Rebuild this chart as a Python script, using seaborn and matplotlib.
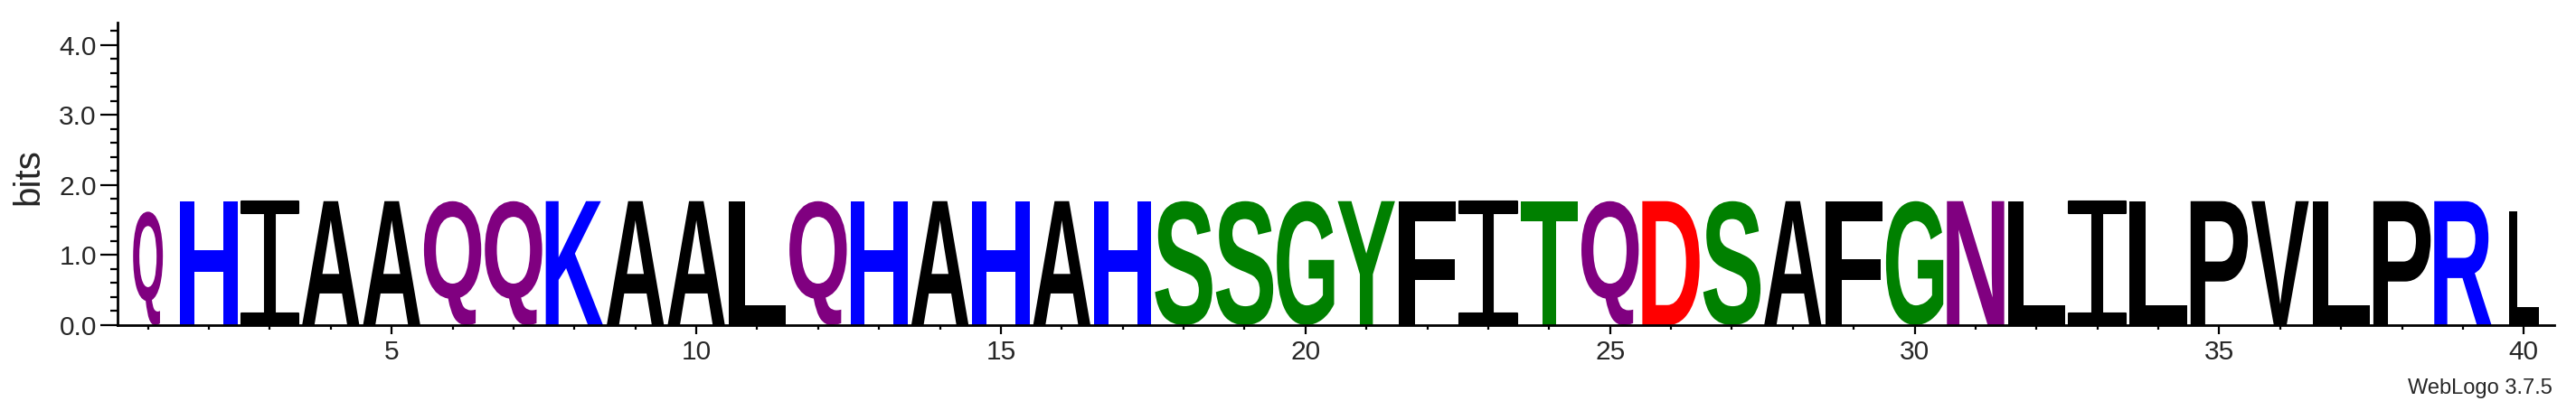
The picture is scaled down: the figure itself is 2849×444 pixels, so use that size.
#!/usr/bin/env python

# sequence logo, weblogo style

import pandas as pd
import seaborn as sns
import matplotlib.pyplot as plt
from matplotlib.textpath import TextPath
from matplotlib.font_manager import FontProperties
from matplotlib.patches import PathPatch
from matplotlib.path import Path
from matplotlib.transforms import Affine2D
from matplotlib.ticker import MultipleLocator, FixedLocator

residues = list("QHIAAQQKAALQHAHAHSSGYFITQDSAFGNLILPVLPRL")
positions = list(range(1, 41))
bits = [1.62, 1.77, 1.77, 1.77, 1.77, 1.77, 1.77, 1.77, 1.77, 1.77,
        1.77, 1.77, 1.77, 1.77, 1.77, 1.77, 1.77, 1.77, 1.77, 1.77,
        1.77, 1.77, 1.77, 1.77, 1.77, 1.77, 1.77, 1.77, 1.77, 1.77,
        1.77, 1.77, 1.77, 1.77, 1.77, 1.77, 1.77, 1.77, 1.77, 1.62]
occupancy = [0.52] + [1.0] * 38 + [0.52]
xticks_major = [5, 10, 15, 20, 25, 30, 35, 40]
yticks_major = [0.0, 1.0, 2.0, 3.0, 4.0]

df = pd.DataFrame({"pos": positions, "res": residues, "bits": bits, "occ": occupancy})

# weblogo "chemistry" colours
chem = {}
for r in "GSTYC":
    chem[r] = "#008000"
for r in "QN":
    chem[r] = "#800080"
for r in "KRH":
    chem[r] = "#0000ff"
for r in "DE":
    chem[r] = "#ff0000"
for r in "AVLIPWFM":
    chem[r] = "#000000"

sns.set_style("ticks")
plt.rcParams["font.family"] = ["Liberation Sans", "DejaVu Sans"]

glyph_font = FontProperties(family="Liberation Sans", weight="bold")


def serif_i():
    # I with bars, like weblogo's font
    b, s = 0.095, 0.085
    verts = [(0, 0), (1, 0), (1, b), (0.5 + s, b), (0.5 + s, 1 - b), (1, 1 - b),
             (1, 1), (0, 1), (0, 1 - b), (0.5 - s, 1 - b), (0.5 - s, b), (0, b), (0, 0)]
    codes = [Path.MOVETO] + [Path.LINETO] * 11 + [Path.CLOSEPOLY]
    return Path(verts, codes)


def glyph(ch):
    if ch == "I":
        return serif_i()
    return TextPath((0, 0), ch, size=100, prop=glyph_font)


fig = plt.figure(figsize=(28.49, 4.44), dpi=100)
ax = fig.add_axes([130 / 2849, 84 / 444, (2825 - 130) / 2849, (360 - 25) / 444])

for _, row in df.iterrows():
    p = glyph(row["res"])
    ext = p.get_extents()
    w = 0.94 * row["occ"]
    tr = (Affine2D().translate(-ext.x0, -ext.y0)
          .scale(w / ext.width, row["bits"] / ext.height)
          .translate(row["pos"] - w / 2, 0))
    lw = 0 if row["res"] != "I" else 1.5
    ax.add_patch(PathPatch(tr.transform_path(p), fc=chem[row["res"]],
                           ec=chem[row["res"]], lw=lw, joinstyle="round"))

ax.set_xlim(0.5, 40.5)
ax.set_ylim(0, 4.32)
sns.despine(ax=ax)
for s in ["left", "bottom"]:
    ax.spines[s].set_linewidth(2.0)
    ax.spines[s].set_color("black")

ax.xaxis.set_major_locator(FixedLocator(xticks_major))
ax.xaxis.set_minor_locator(FixedLocator(positions))
ax.set_xticklabels([str(t) for t in xticks_major])
ax.yaxis.set_major_locator(FixedLocator(yticks_major))
ax.yaxis.set_minor_locator(MultipleLocator(0.2))
ax.set_yticklabels(["%.1f" % t for t in yticks_major])

ax.tick_params(axis="x", which="major", length=10 * 0.72, width=1.6, labelsize=21.5, pad=4, color="black")
ax.tick_params(axis="x", which="minor", length=5 * 0.72, width=1.6, color="black")
ax.tick_params(axis="y", which="major", length=19 * 0.72, width=1.6, labelsize=21.5, pad=3, color="black")
ax.tick_params(axis="y", which="minor", length=8 * 0.72, width=1.6, color="black")

ax.set_ylabel("bits", fontsize=29)
ax.yaxis.set_label_coords(-80 / 2695, 0.49)

fig.text(2823 / 2849, 8 / 444, "WebLogo 3.7.5", ha="right", va="baseline", fontsize=17)

plt.savefig("out.png", dpi=100)
